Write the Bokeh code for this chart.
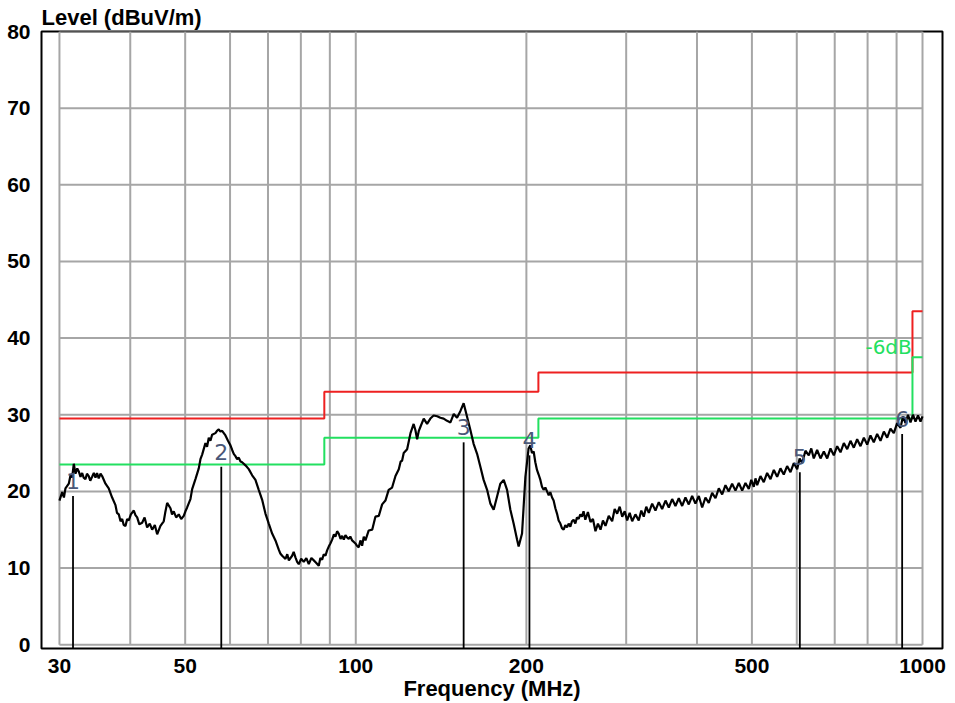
from bokeh.plotting import figure
from bokeh.models import Range1d, FixedTicker, NumeralTickFormatter, Label
from bokeh.embed import file_html
from bokeh.resources import INLINE
from bokeh.core.properties import value

# ---- measured trace (frequency in MHz, level in dBuV/m) ----
FREQ_MHZ = [
    30.0, 30.33, 30.55, 30.74, 31.16, 31.40, 31.59, 31.80, 32.02, 32.25,
    32.45, 32.68, 32.90, 33.10, 33.34, 33.55, 33.79, 34.00, 34.26, 34.50,
    34.73, 34.95, 35.19, 35.45, 35.68, 36.17, 36.65, 37.16, 37.67, 37.90,
    38.18, 38.45, 38.71, 38.95, 39.23, 39.50, 39.76, 40.10, 40.58, 40.85,
    41.14, 41.50, 41.98, 42.40, 42.84, 43.30, 43.72, 44.20, 44.62, 45.22,
    45.83, 46.10, 46.47, 47.10, 47.40, 47.73, 48.20, 48.71, 49.20, 49.71,
    50.05, 50.40, 51.08, 51.44, 52.13, 52.84, 53.20, 53.57, 54.29, 54.65,
    55.03, 55.40, 55.79, 56.54, 56.90, 57.31, 57.70, 58.10, 58.89, 59.50,
    60.10, 60.52, 60.91, 61.33, 61.75, 62.16, 62.60, 63.02, 63.88, 64.74,
    65.64, 66.52, 67.42, 68.36, 69.28, 70.22, 71.19, 72.15, 73.13, 73.60,
    74.15, 75.15, 75.70, 76.20, 77.22, 77.70, 78.26, 78.80, 79.32, 80.10,
    80.95, 81.80, 82.61, 83.50, 84.31, 85.10, 86.04, 86.60, 87.23, 87.80,
    88.41, 89.00, 89.60, 90.20, 90.85, 91.50, 92.07, 92.70, 93.31, 94.00,
    94.61, 95.25, 95.89, 96.50, 97.18, 97.80, 98.53, 99.86, 100.5, 101.2,
    101.9, 102.6, 103.3, 104.0, 105.4, 106.9, 108.3, 109.8, 111.3, 112.8,
    114.3, 115.9, 117.5, 119.1, 120.0, 120.7, 121.5, 123.2, 124.9, 126.5,
    127.4, 128.3, 129.2, 130.0, 131.8, 133.6, 135.4, 137.2, 139.2, 141.0,
    142.9, 144.9, 146.9, 148.9, 150.9, 153.0, 155.0, 157.2, 159.3, 161.4,
    163.7, 165.9, 168.1, 170.5, 172.8, 175.1, 177.5, 179.9, 182.4, 184.9,
    187.4, 189.9, 192.6, 193.8, 196.5, 199.2, 201.8, 203.2, 204.6, 206.0,
    207.4, 208.8, 210.2, 211.7, 213.1, 214.5, 216.0, 217.5, 219.0, 220.4,
    222.0, 223.4, 225.0, 226.5, 228.0, 229.6, 231.1, 232.7, 234.3, 235.9,
    237.5, 239.1, 240.7, 242.3, 244.0, 245.6, 247.3, 249.0, 250.6, 252.3,
    254.1, 256.8, 259.5, 262.1, 264.8, 267.5, 270.3, 273.0, 275.8, 279.5,
    283.4, 286.3, 289.2, 292.2, 295.2, 298.2, 301.2, 304.3, 307.4, 311.5,
    315.7, 319.0, 322.2, 325.5, 328.9, 333.4, 337.9, 342.5, 347.2, 352.0,
    356.7, 361.6, 366.5, 371.5, 376.6, 381.7, 386.9, 392.2, 397.5, 403.0,
    408.5, 414.0, 419.6, 425.4, 431.2, 437.1, 443.1, 449.1, 455.1, 461.4,
    467.7, 474.1, 480.6, 487.1, 493.7, 498.7, 503.8, 507.3, 510.8, 517.7,
    524.7, 531.9, 539.2, 546.6, 554.0, 561.5, 569.1, 576.9, 584.8, 592.8,
    601.0, 607.0, 613.3, 621.5, 630.0, 636.4, 642.9, 651.7, 660.7, 669.7,
    678.9, 688.1, 697.4, 707.0, 716.6, 726.4, 736.4, 746.3, 756.4, 766.8,
    777.3, 788.0, 798.7, 809.5, 820.4, 831.7, 843.1, 854.6, 866.3, 878.0,
    889.9, 902.0, 914.4, 923.8, 933.2, 942.7, 952.4, 962.0, 971.9, 981.8,
    991.9, 1000.0,
]
LEVEL_DBUV = [
    18.8, 19.9, 19.2, 20.4, 21.0, 22.2, 21.8, 23.6, 22.3, 23.0,
    22.6, 21.9, 22.4, 21.8, 21.6, 22.3, 22.0, 21.4, 21.9, 22.4,
    21.8, 22.4, 21.7, 22.3, 22.0, 21.0, 20.4, 19.2, 18.2, 17.2,
    17.0, 16.1, 16.4, 15.6, 15.5, 16.4, 16.2, 17.0, 17.5, 16.9,
    16.6, 15.7, 15.9, 16.6, 15.3, 15.8, 15.0, 15.6, 14.4, 15.5,
    16.1, 17.2, 18.5, 17.8, 17.0, 17.4, 16.6, 17.0, 16.4, 16.8,
    17.4, 17.9, 19.0, 20.3, 21.6, 23.0, 24.2, 24.8, 26.3, 25.8,
    27.0, 26.6, 27.4, 27.6, 27.9, 28.1, 27.8, 27.9, 27.3, 26.6,
    26.0, 25.4, 24.9, 24.6, 24.2, 24.4, 23.9, 23.8, 23.4, 22.9,
    22.1, 21.5, 20.2, 18.9, 17.1, 15.8, 14.5, 13.6, 12.4, 11.9,
    11.6, 11.2, 11.8, 11.0, 11.6, 12.1, 11.4, 10.8, 10.5, 11.2,
    10.8, 11.3, 10.5, 11.3, 11.0, 10.7, 10.3, 11.3, 11.1, 11.8,
    11.6, 12.3, 12.8, 13.2, 13.7, 14.4, 14.1, 14.8, 14.5, 13.8,
    14.2, 13.7, 14.3, 14.0, 13.8, 14.1, 13.6, 13.2, 12.9, 12.7,
    13.6, 12.9, 14.1, 13.6, 14.9, 15.0, 16.7, 16.8, 18.3, 18.8,
    20.2, 20.5, 22.0, 22.9, 23.9, 24.0, 25.0, 25.5, 27.6, 28.8,
    28.0, 26.8, 27.9, 28.4, 29.5, 28.8, 29.5, 29.9, 29.8, 29.6,
    29.5, 29.2, 29.0, 30.1, 29.6, 30.5, 31.5, 29.7, 28.0, 26.2,
    24.9, 23.2, 21.5, 20.2, 18.4, 17.6, 19.3, 21.0, 21.5, 20.2,
    17.6, 15.8, 13.7, 12.8, 14.5, 21.9, 25.6, 26.0, 25.0, 25.2,
    23.8, 22.8, 22.2, 21.5, 20.6, 20.2, 20.5, 20.0, 19.5, 19.9,
    19.2, 18.8, 17.8, 17.1, 16.2, 15.8, 15.2, 15.0, 15.6, 15.3,
    15.8, 15.4, 16.1, 16.3, 15.8, 16.6, 16.4, 17.0, 16.7, 17.4,
    16.3, 17.3, 16.0, 16.4, 14.8, 15.8, 15.0, 16.2, 15.5, 16.8,
    16.1, 17.7, 17.1, 18.0, 16.7, 17.4, 16.2, 17.2, 16.1, 17.0,
    16.2, 17.5, 16.7, 18.0, 17.2, 18.4, 17.5, 18.6, 17.7, 18.8,
    17.9, 19.0, 18.1, 19.1, 18.1, 19.2, 18.3, 19.4, 18.4, 19.4,
    17.9, 19.2, 18.5, 19.8, 19.1, 20.4, 19.6, 20.8, 20.0, 21.0,
    20.1, 21.1, 20.1, 21.1, 20.3, 21.5, 20.6, 21.7, 20.8, 22.0,
    21.2, 22.4, 21.6, 22.8, 21.9, 23.0, 22.2, 23.3, 22.5, 23.7,
    22.9, 24.3, 23.7, 25.3, 24.7, 25.6, 24.3, 25.4, 24.3, 25.2,
    24.3, 25.6, 24.7, 25.9, 25.1, 26.3, 25.5, 26.6, 25.7, 26.8,
    25.9, 27.0, 26.1, 27.3, 26.4, 27.5, 26.6, 27.8, 27.0, 28.2,
    27.6, 28.9, 28.3, 29.8, 28.9, 30.0, 29.0, 30.0, 29.1, 29.9,
    29.1, 29.8,
]

# ---- limit lines ----
LIMIT_FREQ = [30, 88, 210, 960, 1000]
LIMIT_RED = [29.5, 33.0, 35.5, 43.5, 43.5]
LIMIT_GREEN = [23.5, 27.0, 29.5, 37.5, 37.5]
MARGIN_TEXT = "-6dB"

# ---- markers ----
MARKER_FREQ = [31.7, 57.9, 155.0, 202.5, 607.5, 920.6]
MARKER_LEVEL = [19.4, 23.2, 26.4, 24.7, 22.5, 27.5]
MARKER_LABEL = ["1", "2", "3", "4", "5", "6"]

# ---- axes ----
X_TICKS = [30, 50, 100, 200, 500, 1000]
Y_TICKS = [0, 10, 20, 30, 40, 50, 60, 70, 80]
GRID_FREQ = [30, 40, 50, 60, 70, 80, 90, 100, 200, 300, 400, 500, 600, 700, 800, 900, 1000]
GRID_LEVEL = Y_TICKS
X_MIN, X_MAX = 27.89, 1084.6
Y_MIN, Y_MAX = -0.5, 80

FONT = "Liberation Sans"

p = figure(width=950, height=703, x_axis_type="log",
           x_range=Range1d(X_MIN, X_MAX), y_range=Range1d(Y_MIN, Y_MAX),
           output_backend="svg", toolbar_location=None,
           min_border_left=41, min_border_right=8, min_border_top=30, min_border_bottom=55)
p.xgrid.visible = False
p.ygrid.visible = False
p.outline_line_color = "black"
p.outline_line_width = 2
p.background_fill_color = "white"
p.border_fill_color = "white"

p.title.text = "Level (dBuV/m)"
p.title.align = "left"
p.title.text_font = FONT
p.title.text_font_style = "bold"
p.title.text_font_size = "22px"
p.title.text_color = "black"
p.title.standoff = 4

for ax in (p.xaxis, p.yaxis):
    ax.axis_line_color = None
    ax.major_tick_line_color = None
    ax.minor_tick_line_color = None
    ax.major_label_text_font = FONT
    ax.major_label_text_font_style = "bold"
    ax.major_label_text_font_size = "21px"
    ax.major_label_text_color = "black"

p.xaxis.ticker = FixedTicker(ticks=X_TICKS, minor_ticks=[])
p.xaxis.formatter = NumeralTickFormatter(format="0")
p.xaxis.major_label_standoff = 4
p.xaxis.axis_label = "Frequency (MHz)"
p.xaxis.axis_label_standoff = 0
p.xaxis.axis_label_text_font = FONT
p.xaxis.axis_label_text_font_style = "bold"
p.xaxis.axis_label_text_font_size = "22px"
p.xaxis.axis_label_text_color = "black"
p.yaxis.ticker = FixedTicker(ticks=Y_TICKS, minor_ticks=[])
p.yaxis.major_label_standoff = 5

# grid drawn only inside the measurement span
p.segment(x0=GRID_FREQ, y0=[GRID_LEVEL[0]] * len(GRID_FREQ), x1=GRID_FREQ,
          y1=[GRID_LEVEL[-1]] * len(GRID_FREQ), line_color="#a6a6a6", line_width=2)
p.segment(x0=[GRID_FREQ[0]] * len(GRID_LEVEL), y0=GRID_LEVEL,
          x1=[GRID_FREQ[-1]] * len(GRID_LEVEL), y1=GRID_LEVEL, line_color="#a6a6a6", line_width=2)

# limit lines
p.step(x=LIMIT_FREQ, y=LIMIT_RED, mode="after", line_color="#ee2020", line_width=2)
p.step(x=LIMIT_FREQ, y=LIMIT_GREEN, mode="after", line_color="#22e060", line_width=2)

# marker lines
p.segment(x0=MARKER_FREQ, y0=[Y_MIN] * len(MARKER_FREQ), x1=MARKER_FREQ, y1=MARKER_LEVEL,
          line_color="black", line_width=1.8)

# trace
p.line(FREQ_MHZ, LEVEL_DBUV, line_color="black", line_width=2.2)

# marker numbers
p.text(x=MARKER_FREQ, y=MARKER_LEVEL, text=MARKER_LABEL, text_align="center",
       text_baseline="alphabetic", y_offset=-15, text_font=value("DejaVu Sans"),
       text_font_size="22px", text_color="#4a5878")

p.add_layout(Label(x=793, y=38.8, text=MARGIN_TEXT, text_align="left", text_baseline="middle",
                   text_font="DejaVu Sans", text_font_size="20px", text_color="#22e060"))

open("out.html", "w").write(file_html(p, INLINE))
